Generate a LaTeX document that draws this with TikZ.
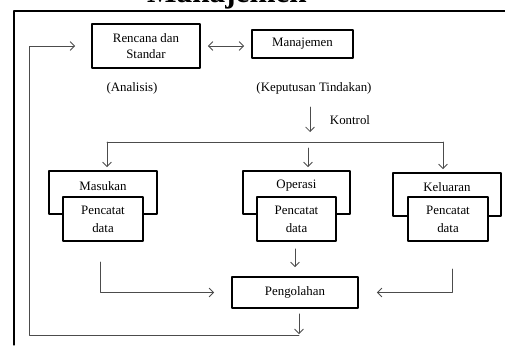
\documentclass[tikz,border=0pt]{standalone}
\usepackage{fontspec}
\setmainfont{Liberation Serif}
\usetikzlibrary{arrows.meta}

\begin{document}
\begin{tikzpicture}[line cap=round,line join=round,>={Straight Barb[length=3.5pt,width=7pt]},x=0.8pt,y=-0.8pt,
  box/.style={draw,line width=1.5pt,fill=white,align=center,inner sep=0pt,font=\fontsize{10.3}{12.4}\selectfont},
  conn/.style={draw=black!70,line width=0.7pt},
  txt/.style={inner sep=0pt,font=\fontsize{10.3}{12.4}\selectfont}]
\useasboundingbox (0,0) rectangle (505,345);
\clip (0,0) rectangle (505,345);
% judul dan bingkai
\node[anchor=base,inner sep=0pt,font=\fontsize{25}{30}\selectfont\bfseries] (judul) at (227,2.5) {Manajemen};
\draw [line width=1pt] (14,345) -- (14,11) -- (505,11);
% baris atas
\node[box,minimum width=86.4pt,minimum height=35.2pt] (rencana) at (146,46) {Rencana dan\\Standar};
\node[box,minimum width=80.8pt,minimum height=22.4pt] (manajemen) at (302.5,44) {Manajemen};
\node[txt] (analisis) at (132,88) {(Analisis)};
\node[txt] (keputusan) at (314,88) {(Keputusan Tindakan)};
\node[txt] (kontrol) at (350,120) {Kontrol};
% kotak luar
\node[box,minimum width=86.4pt,minimum height=34.4pt] (masukan) at (103,192.5) {};
\node[box,minimum width=85.6pt,minimum height=34.4pt] (operasi) at (296.5,192.5) {};
\node[box,minimum width=86.4pt,minimum height=34.4pt] (keluaran) at (447,194.5) {};
\node[txt] at (103,186) {Masukan};
\node[txt] at (296.5,186) {Operasi};
\node[txt] at (447,187) {Keluaran};
% kotak dalam
\node[box,minimum width=64pt,minimum height=35.2pt] (masukanpc) at (103,219) {Pencatat\\[2.2pt]data};
\node[box,minimum width=63.2pt,minimum height=35.2pt] (operasipc) at (296.5,219) {Pencatat\\[2.2pt]data};
\node[box,minimum width=64pt,minimum height=35.2pt] (keluaranpc) at (448,219) {Pencatat\\[2.2pt]data};
\node[box,minimum width=100.8pt,minimum height=24.8pt] (pengolahan) at (295,292.5) {Pengolahan};
% titik bantu
\coordinate (atas) at (310,107);
\coordinate (busl) at (107,142);
\coordinate (busm) at (308,148);
\coordinate (busr) at (443,142);
\coordinate (inl) at (100,262);
\coordinate (inr) at (452,269);
\coordinate (balik) at (299,335);
\coordinate (balikl) at (29,335);
% panah
\draw [conn,<->,shorten <=5.6pt,shorten >=5.6pt] (rencana.east) -- (rencana.east -| manajemen.west);
\draw [conn,->] (atas) -- (310,132);
\draw [conn] (busl) -- (busr);
\draw [conn,->,shorten >=2.4pt] (busl) -- (busl |- masukan.north);
\draw [conn,->,shorten >=2.4pt] (busm) -- (busm |- operasi.north);
\draw [conn,->,shorten >=2.4pt] (busr) -- (busr |- keluaran.north);
\draw [conn,->,shorten <=5.6pt,shorten >=7.2pt] (operasipc.south -| pengolahan.north) -- (pengolahan.north);
\draw [conn,->,shorten >=13.6pt] (inl) |- (pengolahan.west);
\draw [conn,->,shorten >=14.4pt] (inr) |- (pengolahan.east);
\draw [conn,->,shorten <=4pt,shorten >=0.8pt] (pengolahan.south -| balik) -- (balik);
\draw [conn,->,shorten >=12.8pt] (balik) -- (balikl) |- (rencana.west);
\end{tikzpicture}
\end{document}
